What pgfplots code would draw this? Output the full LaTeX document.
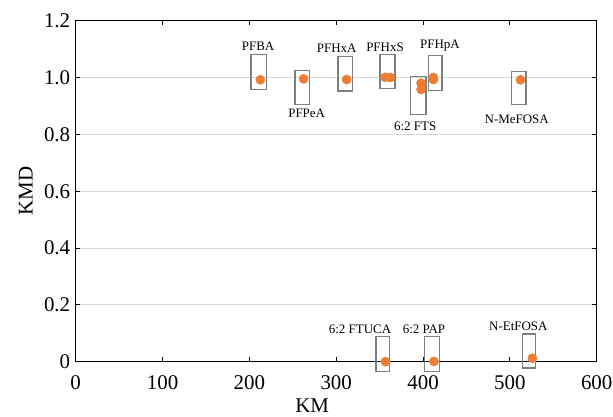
\documentclass[border=0pt]{standalone}
\usepackage{pgfplots}
\pgfplotsset{compat=1.18}
\usepackage{fontspec}
\setmainfont{Liberation Serif}
\definecolor{orng}{HTML}{ED7D31}
\definecolor{boxg}{HTML}{7F7F7F}
\definecolor{gridg}{HTML}{D9D9D9}
\tikzset{annot/.style={font=\fontsize{13}{15}\selectfont, inner sep=0pt}}
\begin{document}
\begin{tikzpicture}
\begin{axis}[
  at={(0,0)}, anchor=south west,
  scale only axis, width=521bp, height=341bp,
  xmin=0, xmax=600, ymin=0, ymax=1.2,
  xtick={0,100,200,300,400,500,600},
  ytick={0,0.2,0.4,0.6,0.8,1.0,1.2},
  yticklabels={0,0.2,0.4,0.6,0.8,1.0,1.2},
  ymajorgrids, major grid style={gridg, line width=0.9bp},
  axis line style={line width=1.2bp},
  tick align=inside, major tick length=4.5bp,
  tick style={black, line width=1bp},
  tick label style={font=\fontsize{21}{25}\selectfont},
  xticklabel style={yshift=-10bp},
  yticklabel style={xshift=-2bp},
  /pgf/number format/assume math mode=true,
  xlabel={KM}, ylabel={KMD},
  label style={font=\fontsize{21}{25}\selectfont},
  xlabel style={at={(axis description cs:0.454,-0.108)}, anchor=north, inner sep=0pt},
  ylabel style={at={(axis description cs:-0.082,0.5)}, anchor=south, inner sep=0pt},
  clip=false,
]
% boxes
\addplot[boxg, line width=1.4bp] coordinates {(202,0.957) (220,0.957) (220,1.08) (202,1.08)} -- cycle;
\addplot[boxg, line width=1.4bp] coordinates {(252.5,0.905) (269,0.905) (269,1.025) (252.5,1.025)} -- cycle;
\addplot[boxg, line width=1.4bp] coordinates {(302,0.952) (319,0.952) (319,1.074) (302,1.074)} -- cycle;
\addplot[boxg, line width=1.4bp] coordinates {(350.6,0.962) (367.5,0.962) (367.5,1.08) (350.6,1.08)} -- cycle;
\addplot[boxg, line width=1.4bp] coordinates {(385.4,0.87) (403.4,0.87) (403.4,1.003) (385.4,1.003)} -- cycle;
\addplot[boxg, line width=1.4bp] coordinates {(406,0.954) (422,0.954) (422,1.077) (406,1.077)} -- cycle;
\addplot[boxg, line width=1.4bp] coordinates {(502,0.905) (518.4,0.905) (518.4,1.022) (502,1.022)} -- cycle;
\addplot[boxg, line width=1.4bp] coordinates {(346,-0.034) (361.7,-0.034) (361.7,0.089) (346,0.089)} -- cycle;
\addplot[boxg, line width=1.4bp] coordinates {(401.5,-0.034) (418.8,-0.034) (418.8,0.089) (401.5,0.089)} -- cycle;
\addplot[boxg, line width=1.4bp] coordinates {(514.6,-0.022) (529.5,-0.022) (529.5,0.097) (514.6,0.097)} -- cycle;
% points
\addplot[only marks, mark=*, mark size=4.6bp, mark options={draw=orng, fill=orng}] coordinates {
 (212.6,0.992) (262.5,0.995) (312,0.993) (356.3,1.001) (362.4,1.0)
 (397.7,0.98) (397.7,0.958) (411.9,1.0) (412,0.993) (512.3,0.992)
 (356.7,0.0) (412.6,0.001) (525.9,0.012)
};
% labels
\node[annot] at (axis cs:210,1.111) {PFBA};
\node[annot] at (axis cs:266,0.874) {PFPeA};
\node[annot] at (axis cs:300.6,1.103) {PFHxA};
\node[annot] at (axis cs:356.2,1.108) {PFHxS};
\node[annot] at (axis cs:391,0.827) {6:2 FTS};
\node[annot] at (axis cs:419.5,1.114) {PFHpA};
\node[annot] at (axis cs:507.9,0.853) {N-MeFOSA};
\node[annot] at (axis cs:327.4,0.114) {6:2 FTUCA};
\node[annot] at (axis cs:401.1,0.114) {6:2 PAP};
\node[annot] at (axis cs:509.8,0.126) {N-EtFOSA};
\end{axis}
\pgfresetboundingbox
\path (-75.7bp,-55.3bp) rectangle (537.3bp,361.7bp);
\end{tikzpicture}
\end{document}
